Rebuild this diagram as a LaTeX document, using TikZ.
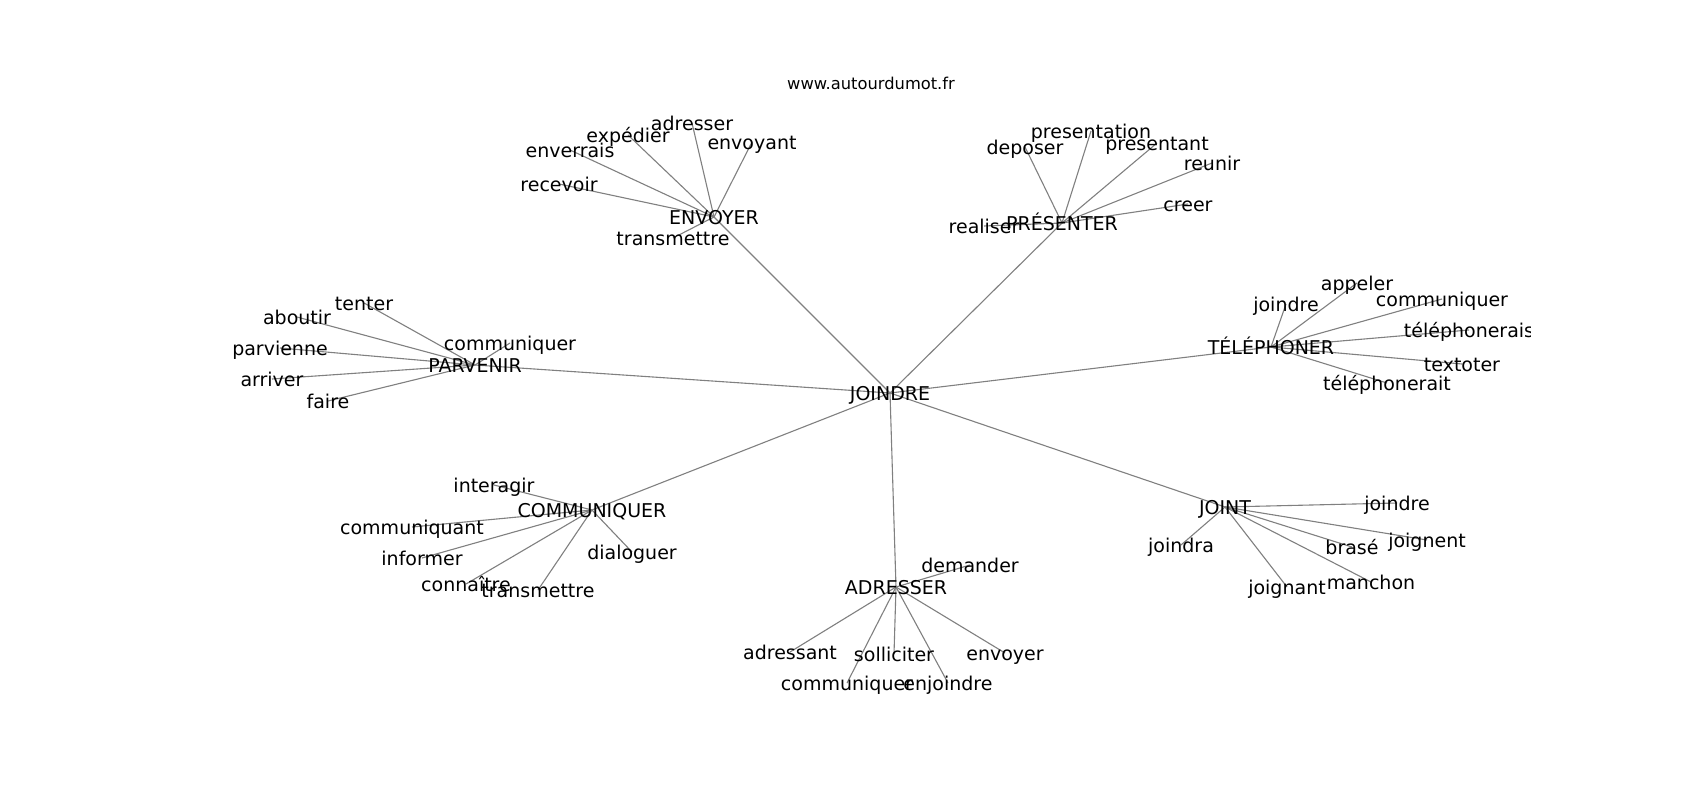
\documentclass[tikz,border=0pt]{standalone}
\usepackage{fontspec}
\setmainfont{DejaVu Sans}
\usetikzlibrary{backgrounds}

\tikzset{
  word/.style={inner sep=0pt, text height=14pt, text depth=0pt, font=\fontsize{19}{22}\selectfont},
  link/.style={draw=gray, line width=1.1pt}
}

\begin{document}
\begin{tikzpicture}[x=1pt,y=-1pt]
\useasboundingbox (0,0) rectangle (1700,800);
\node[inner sep=0pt, font=\fontsize{16.3}{19}\selectfont] (site) at (871,83) {www.autourdumot.fr};
\begin{scope}
\clip (212,96) rectangle (1530,712); % axes box
\node[word] (joindre) at (890,393) {JOINDRE};
\foreach \n/\x/\y/\t in {envoyer/714/217/ENVOYER, presenter/1062/223/PRÉSENTER,
    telephoner/1271/347/TÉLÉPHONER, parvenir/475/365/PARVENIR,
    communiquer/592/510/COMMUNIQUER, adresser/896/587/ADRESSER, joint/1225/507/JOINT} % the hubs
  \node[word] (\n) at (\x,\y) {\t};
\foreach \n/\x/\y/\t in {ev1/692/123/adresser, ev2/628/135/expédier, ev3/570/150/enverrais,
    ev4/752/142/envoyant, ev5/559/184/recevoir, ev6/673/238/transmettre,
    pr1/1091/131/presentation, pr2/1025/147/deposer, pr3/1157/143/presentant,
    pr4/1212/163/reunir, pr5/1188/204/creer, pr6/984/226/realiser,
    te1/1286/304/joindre, te2/1357/283/appeler, te3/1442/299/communiquer,
    te4/1469/330/téléphonerais, te5/1462/364/textoter, te6/1387/383/téléphonerait,
    pa1/364/303/tenter, pa2/297/317/aboutir, pa3/280/348/parvienne,
    pa4/272/379/arriver, pa5/328/401/faire, pa6/510/343/communiquer,
    co1/494/485/interagir, co2/412/527/communiquant, co3/422/558/informer,
    co4/466/584/connaître, co5/538/590/transmettre, co6/632/552/dialoguer,
    ad1/970/565/demander, ad2/790/652/adressant, ad3/894/654/solliciter,
    ad4/1005/653/envoyer, ad5/847/683/communiquer, ad6/948/683/enjoindre,
    jt1/1397/503/joindre, jt2/1181/545/joindra, jt3/1352/547/brasé,
    jt4/1427/540/joignent, jt5/1287/587/joignant, jt6/1371/582/manchon} % the leaves
  \node[word] (\n) at (\x,\y) {\t};
\end{scope}
\begin{scope}[on background layer]
\fill[white] (0,0) rectangle (1700,800);
\foreach \h in {envoyer,presenter,telephoner,parvenir,communiquer,adresser,joint}
  \draw[link] (joindre.center) -- (\h.center);
\foreach \h/\p in {envoyer/ev,presenter/pr,telephoner/te,parvenir/pa,communiquer/co,adresser/ad,joint/jt}
  \foreach \i in {1,...,6}
    \draw[link] (\h.center) -- (\p\i.center);
\end{scope}
\end{tikzpicture}
\end{document}
